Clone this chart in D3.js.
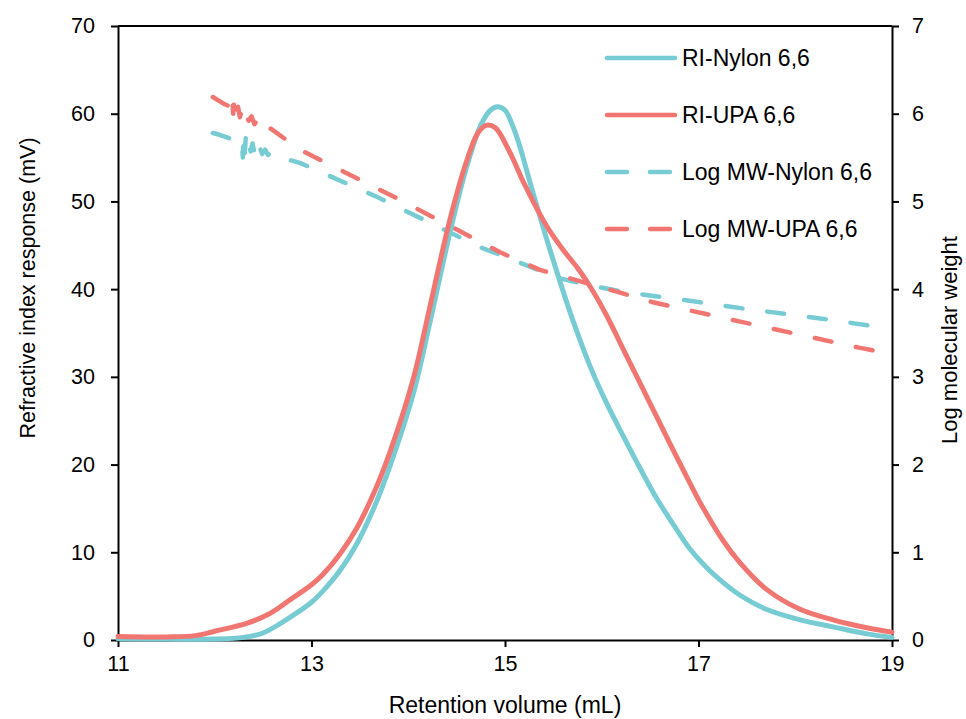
<!DOCTYPE html>
<html>
<head>
<meta charset="utf-8">
<script src="https://cdn.jsdelivr.net/npm/d3@7"></script>
<style>
  body { margin: 0; background: #fff; }
  text { font-family: "Liberation Sans", Arial, sans-serif; fill: #000; }
</style>
</head>
<body>
<script>
// retention volume (mL) vs RI response (mV)
var riNylon = [
  [11.0, 0.15], [11.5, 0.1], [12.0, 0.1], [12.3, 0.3], [12.5, 0.8], [12.78, 2.6],
  [13.0, 4.3], [13.12, 5.6], [13.3, 8.0], [13.47, 11.0], [13.65, 15.2], [13.81, 19.8],
  [14.05, 28.0], [14.22, 36.0], [14.43, 46.4], [14.6, 53.8], [14.75, 58.7], [14.85, 60.4],
  [14.92, 60.8], [15.0, 60.4], [15.08, 58.6], [15.15, 56.4], [15.25, 52.5], [15.39, 47.2],
  [15.47, 44.3], [15.57, 40.8], [15.7, 36.5], [15.88, 31.2], [16.05, 27.0], [16.22, 23.3],
  [16.4, 19.5], [16.57, 16.1], [16.75, 13.0], [16.91, 10.4], [17.08, 8.3], [17.25, 6.6],
  [17.43, 5.1], [17.7, 3.5], [18.05, 2.3], [18.39, 1.5], [18.74, 0.7], [19.0, 0.3]
];
var riUPA = [
  [11.0, 0.4], [11.5, 0.35], [11.8, 0.5], [12.0, 1.0], [12.33, 1.9], [12.55, 2.9],
  [12.78, 4.6], [13.0, 6.3], [13.12, 7.5], [13.3, 9.9], [13.47, 12.8], [13.65, 16.9],
  [13.81, 21.4], [14.05, 29.7], [14.22, 37.8], [14.43, 47.9], [14.6, 54.5], [14.72, 57.8],
  [14.81, 58.7], [14.9, 58.4], [15.05, 55.6], [15.2, 52.0], [15.43, 47.2], [15.6, 44.5],
  [15.75, 42.4], [15.88, 40.3], [16.05, 37.0], [16.22, 33.2], [16.4, 29.2], [16.57, 25.4],
  [16.75, 21.4], [16.91, 17.9], [17.02, 15.6], [17.25, 11.4], [17.43, 8.8], [17.7, 5.8],
  [18.05, 3.5], [18.39, 2.3], [18.74, 1.4], [19.0, 0.9]
];
// retention volume (mL) vs log MW (right axis)
var mwNylon = [
  [11.98, 5.78], [12.05, 5.76], [12.2, 5.70],
  [12.28, 5.70], [12.29, 5.50], [12.30, 5.74], [12.31, 5.55], [12.32, 5.72], [12.34, 5.60],
  [12.35, 5.68], [12.37, 5.57], [12.39, 5.66], [12.41, 5.56], [12.43, 5.63], [12.45, 5.53],
  [12.47, 5.60], [12.49, 5.54], [12.52, 5.59], [12.55, 5.53], [12.58, 5.56], [12.62, 5.52],
  [12.88, 5.44], [13.68, 5.05], [14.33, 4.70], [14.74, 4.48], [15.0, 4.37], [15.54, 4.13],
  [15.85, 4.05], [16.22, 3.97], [17.02, 3.85], [17.46, 3.78], [18.36, 3.65], [18.79, 3.58],
  [19.0, 3.55]
];
var mwUPA = [
  [11.98, 6.19], [12.1, 6.11],
  [12.16, 6.08], [12.18, 6.21], [12.19, 6.00], [12.20, 6.15], [12.22, 5.98], [12.24, 6.08],
  [12.26, 5.96], [12.28, 6.04], [12.30, 5.94], [12.32, 6.00], [12.35, 5.92], [12.38, 5.97],
  [12.41, 5.88], [12.44, 5.93], [12.47, 5.85], [12.50, 5.88], [12.54, 5.82], [12.58, 5.83],
  [12.88, 5.59], [13.91, 5.02], [14.95, 4.42], [15.36, 4.22], [16.19, 3.96], [16.53, 3.85],
  [17.43, 3.63], [18.67, 3.33], [19.0, 3.26]
];

var xTicks = [11, 13, 15, 17, 19];
var yTicks = [0, 10, 20, 30, 40, 50, 60, 70];
var y2Ticks = [0, 1, 2, 3, 4, 5, 6, 7];

var teal = "#77CCD3", red = "#F17671";

var W = 966, H = 719;
var svg = d3.select("body").append("svg").attr("width", W).attr("height", H);

var x = d3.scaleLinear().domain([11, 19]).range([118, 892]);
var y = d3.scaleLinear().domain([0, 70]).range([640, 26]);
var y2 = d3.scaleLinear().domain([0, 7]).range([640, 26]);

// top frame line
svg.append("line")
    .attr("x1", 118).attr("x2", 892).attr("y1", 26).attr("y2", 26)
    .attr("stroke", "#000").attr("stroke-width", 2);

function styleAxis(g) {
  g.selectAll("path, line").attr("stroke", "#000").attr("stroke-width", 2);
  g.selectAll("text").attr("font-size", 21.5).attr("font-family", "Liberation Sans, Arial, sans-serif");
}

svg.append("g").attr("transform", "translate(0,640)")
    .call(d3.axisBottom(x).tickValues(xTicks).tickSize(7).tickSizeOuter(0).tickPadding(9).tickFormat(d3.format("d")))
    .call(styleAxis);
svg.append("g").attr("transform", "translate(118,0)")
    .call(d3.axisLeft(y).tickValues(yTicks).tickSize(7).tickSizeOuter(0).tickPadding(16).tickFormat(d3.format("d")))
    .call(styleAxis);
svg.append("g").attr("transform", "translate(892,0)")
    .call(d3.axisRight(y2).tickValues(y2Ticks).tickSize(7).tickSizeOuter(0).tickPadding(13).tickFormat(d3.format("d")))
    .call(styleAxis);

var lineL = d3.line().x(d => x(d[0])).y(d => y(d[1])).curve(d3.curveCatmullRom.alpha(0.5));
var lineR = d3.line().x(d => x(d[0])).y(d => y2(d[1]));

var series = [
  { data: mwNylon, line: lineR, color: teal, dash: "17,25" },
  { data: mwUPA, line: lineR, color: red, dash: "17,25" },
  { data: riNylon, line: lineL, color: teal, dash: null },
  { data: riUPA, line: lineL, color: red, dash: null }
];

svg.selectAll(".series")
  .data(series)
  .enter()
  .append("path")
    .attr("d", d => d.line(d.data))
    .attr("fill", "none")
    .attr("stroke", d => d.color)
    .attr("stroke-width", d => d.dash ? 4.5 : 5)
    .attr("stroke-linecap", "round")
    .attr("stroke-linejoin", "round")
    .attr("stroke-dasharray", d => d.dash);

// legend
var legend = [
  { name: "RI-Nylon 6,6", color: teal, dash: null },
  { name: "RI-UPA 6,6", color: red, dash: null },
  { name: "Log MW-Nylon 6,6", color: teal, dash: "20,23" },
  { name: "Log MW-UPA 6,6", color: red, dash: "20,23" }
];
var lg = svg.selectAll(".lg").data(legend).enter().append("g")
    .attr("transform", (d, i) => "translate(0," + (58 + i * 57) + ")");
lg.append("line")
    .attr("x1", 607).attr("x2", 675).attr("y1", 0).attr("y2", 0)
    .attr("stroke", d => d.color).attr("stroke-width", 4.5)
    .attr("stroke-linecap", "round")
    .attr("stroke-dasharray", d => d.dash);
lg.append("text")
    .attr("x", 682).attr("y", 8)
    .attr("font-size", 23)
    .text(d => d.name);

// axis titles
svg.append("text")
    .attr("x", 505).attr("y", 713)
    .attr("text-anchor", "middle").attr("font-size", 23)
    .text("Retention volume (mL)");
svg.append("text")
    .attr("transform", "translate(35,288) rotate(-90)")
    .attr("text-anchor", "middle").attr("font-size", 21.5)
    .text("Refractive index response (mV)");
svg.append("text")
    .attr("transform", "translate(957,340) rotate(-90)")
    .attr("text-anchor", "middle").attr("font-size", 22)
    .text("Log molecular weight");
</script>
</body>
</html>
